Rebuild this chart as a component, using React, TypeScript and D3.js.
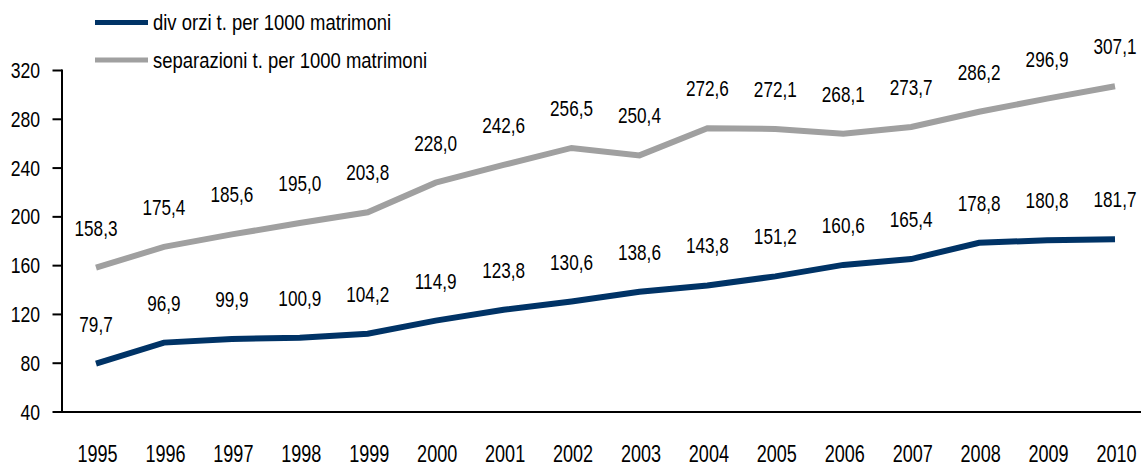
import React from "react";
import * as d3 from "d3";

const years = ["1995","1996","1997","1998","1999","2000","2001","2002","2003","2004","2005","2006","2007","2008","2009","2010"];
const divorzi = [79.7, 96.9, 99.9, 100.9, 104.2, 114.9, 123.8, 130.6, 138.6, 143.8, 151.2, 160.6, 165.4, 178.8, 180.8, 181.7];
const separazioni = [158.3, 175.4, 185.6, 195.0, 203.8, 228.0, 242.6, 256.5, 250.4, 272.6, 272.1, 268.1, 273.7, 286.2, 296.9, 307.1];
const yTicks = [40, 80, 120, 160, 200, 240, 280, 320];
const seriesNames = ["div orzi t. per 1000 matrimoni", "separazioni t. per 1000 matrimoni"];
const colors = ["#003366", "#a0a0a0"];

const W = 1141, H = 465;
const FONT = "'Liberation Sans', Arial, sans-serif";

function T({ x, y, anchor = "middle", size = 20, sx = 0.8, children }: any) {
  return (
    <text transform={`translate(${x},${y}) scale(${sx},1)`} textAnchor={anchor}
      fontFamily={FONT} fontSize={size} fill="#000">{children}</text>
  );
}

export default function App() {
  const x = d3.scalePoint<string>().domain(years).range([96, 1115]);
  const y = d3.scaleLinear().domain([40, 320]).range([412, 70.5]);
  const line = d3.line<number>().x((_, i) => x(years[i])!).y(d => y(d)).curve(d3.curveLinear);
  const fmt = (v: number) => v.toFixed(1).replace(".", ",");
  const series = [divorzi, separazioni];
  const axisX = 62;

  return (
    <svg width={W} height={H} style={{ position: "absolute", left: 0, top: 0, background: "#fff" }}>
      {/* legend */}
      {seriesNames.map((n, i) => (
        <g key={n}>
          <line x1={95} x2={148} y1={22.5 + i * 37.5} y2={22.5 + i * 37.5} stroke={colors[i]} strokeWidth={5} />
          <T x={153} y={30 + i * 37.5} anchor="start" size={22} sx={0.84}>{n}</T>
        </g>
      ))}
      {/* y axis */}
      <line x1={axisX} x2={axisX} y1={y(320) - 1} y2={y(40)} stroke="#000" strokeWidth={2} />
      {yTicks.map(t => (
        <g key={t}>
          <line x1={52.5} x2={axisX} y1={y(t)} y2={y(t)} stroke="#000" strokeWidth={2} />
          <T x={40} y={y(t) + 7.5} anchor="end" size={22} sx={0.8}>{t}</T>
        </g>
      ))}
      {/* x axis */}
      <line x1={axisX - 1} x2={W} y1={y(40)} y2={y(40)} stroke="#000" strokeWidth={2} />
      {years.map(yr => (
        <T key={yr} x={x(yr)! + 1.5} y={461.5} size={23} sx={0.785}>{yr}</T>
      ))}
      {/* lines */}
      {series.map((s, i) => (
        <path key={i} d={line(s)!} fill="none" stroke={colors[i]} strokeWidth={6} strokeLinejoin="miter" />
      ))}
      {/* labels */}
      {series.map((s, i) => s.map((v, j) => (
        <T key={`${i}-${j}`} x={x(years[j])!} y={y(v) - 32} size={22} sx={0.78}>{fmt(v)}</T>
      )))}
    </svg>
  );
}
